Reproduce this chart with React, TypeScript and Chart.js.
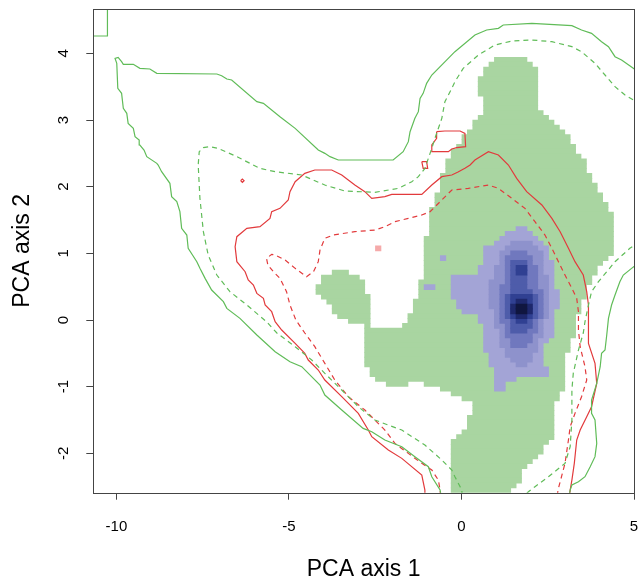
import React, { useEffect, useRef } from "react";
import { Chart, registerables } from "chart.js";

Chart.register(...registerables);

// ---- axes ----
const X_MIN = -10.67;
const X_MAX = 5.0;
const Y_MIN = -2.59;
const Y_MAX = 4.665;
const xTicks = [-10, -5, 0, 5];
const yTicks = [-2, -1, 0, 1, 2, 3, 4];
const xTitle = "PCA axis 1";
const yTitle = "PCA axis 2";

// ---- raster grid (100 x 100 cells) ----
const GRID_X0 = -10.64;
const GRID_X1 = 5.03;
const GRID_Y0 = -2.59;
const GRID_Y1 = 4.665;
const GRID_N = 100;

// cells: [row from top, first column, end column]
const greenCells = [
  [10,74,80],[11,73,81],[12,72,82],[13,72,82],[14,71,82],[15,71,82],[16,71,82],[17,71,82],
  [18,72,82],[19,72,82],[20,72,82],[21,72,83],[22,71,84],[23,70,85],[24,70,86],[25,69,87],
  [26,68,88],[27,68,88],[28,67,89],[29,66,89],[30,66,90],[31,65,91],[32,65,91],[33,65,91],
  [34,64,92],[35,64,92],[36,64,93],[37,64,93],[38,63,94],[39,63,94],[40,63,95],[41,62,95],
  [42,62,96],[43,62,96],[44,62,96],[45,62,96],[46,62,96],[47,61,96],[48,61,96],[49,61,96],
  [50,61,96],[51,61,95],[52,61,94],[53,61,93],[54,44,47],[54,61,93],[55,42,49],[55,61,92],
  [56,42,50],[56,60,92],[57,41,50],[57,60,91],[58,41,50],[58,60,91],[59,42,51],[59,60,91],
  [60,43,51],[60,59,90],[61,44,51],[61,59,90],[62,44,51],[62,59,90],[63,45,51],[63,58,89],
  [64,47,51],[64,58,89],[65,50,51],[65,57,89],[66,50,89],[67,50,89],[68,50,88],[69,50,88],
  [70,50,88],[71,50,87],[72,50,87],[73,50,87],[74,51,87],[75,51,87],[76,52,87],[77,54,58],
  [77,61,87],[78,64,87],[79,66,86],[80,68,86],[81,70,85],[82,70,85],[83,70,85],[84,69,85],
  [85,69,85],[86,69,85],[87,68,85],[88,67,85],[89,66,84],[90,66,83],[91,66,83],[92,66,82],
  [93,66,81],[94,66,80],[95,66,79],[96,66,79],[97,66,79],[98,66,78],[99,66,77]
];
const pinkCells = [[49,52,53]];
const blueLevel1 = [
  [45,78,80],[46,76,81],[47,75,82],[48,74,83],[49,72,84],[50,72,84],[51,72,84],[51,64,65],
  [52,72,85],[53,71,85],[54,71,85],[55,66,85],[56,66,85],[57,66,85],[57,61,63],[58,66,86],
  [59,66,86],[60,67,86],[61,67,86],[62,68,85],[63,71,85],[64,71,85],[65,72,85],[66,72,85],
  [67,72,85],[68,72,84],[69,72,83],[70,72,83],[71,73,83],[72,73,83],[73,73,83],[74,74,84],
  [75,74,84],[76,74,78],[77,74,76],[78,74,76]
];
const blueLevel2 = [
  [48,77,81],[49,76,82],[50,75,83],[51,75,83],[52,75,83],[53,74,83],[54,74,83],[55,74,84],
  [56,73,84],[57,73,84],[58,73,84],[59,73,84],[60,73,84],[61,73,84],[62,74,84],[63,74,84],
  [64,74,83],[65,74,83],[66,75,83],[67,75,83],[68,75,82],[69,75,82],[70,76,82],[71,76,81],
  [72,77,81],[73,78,80]
];
const blueLevel3 = [
  [50,77,80],[51,76,81],[52,76,81],[53,76,82],[54,76,82],[55,76,82],[56,76,82],[57,75,82],
  [58,75,83],[59,75,83],[60,75,83],[61,75,83],[62,75,83],[63,75,83],[64,75,82],[65,76,82],
  [66,76,82],[67,76,81],[68,77,81],[69,77,80]
];
const blueLevel4 = [
  [52,77,80],[53,77,80],[54,77,80],[55,77,80],[56,77,80],[57,77,80],[58,77,81],[59,76,82],
  [60,76,82],[61,76,82],[62,76,82],[63,76,82],[64,77,81],[65,77,81],[66,77,80]
];
const blueLevel5 = [
  [53,78,80],[54,78,80],[59,77,81],[60,77,81],[61,77,81],[62,77,81],[63,77,81],[64,78,80]
];
const blueLevel6 = [[60,78,80],[61,77,81],[62,77,81],[63,78,80]];
const blueLevel7 = [[61,78,80],[62,78,80]];

// ---- contour lines [x, y] ----
const greenSolidMain = [
  [-0.59,-2.64],[-0.62,-2.55],[-0.86,-2.35],[-0.96,-2.2],[-1.35,-2.05],[-1.73,-1.9],[-2.22,-1.8],
  [-2.6,-1.675],[-2.85,-1.625],[-3.47,-1.35],[-3.96,-1.125],[-4.1,-0.975],[-4.63,-0.7],[-4.97,-0.625],
  [-5.4,-0.475],[-5.93,-0.225],[-6.42,0.025],[-6.8,0.175],[-6.9,0.275],[-7.24,0.45],[-7.43,0.625],
  [-7.58,0.775],[-7.67,0.875],[-7.92,1.075],[-7.96,1.275],[-8.11,1.375],[-8.16,1.625],[-8.25,1.775],
  [-8.4,1.85],[-8.45,2.05],[-8.69,2.225],[-8.79,2.325],[-8.83,2.35],[-9.12,2.45],[-9.2,2.55],
  [-9.32,2.625],[-9.34,2.7],[-9.46,2.75],[-9.51,2.875],[-9.66,2.95],[-9.7,3.1],[-9.8,3.175],
  [-9.85,3.4],[-9.96,3.475],[-9.99,3.85],[-10.04,3.925],[-9.95,3.94],[-9.85,3.875],[-9.8,3.835],
  [-9.51,3.835],[-9.32,3.775],[-9.03,3.765],[-8.83,3.7],[-7.09,3.69],[-6.95,3.665],[-6.8,3.615],
  [-6.66,3.6],[-5.93,3.275],[-5.74,3.25],[-5.26,3.05],[-4.82,2.875],[-4.15,2.55],[-3.96,2.5],
  [-3.81,2.45],[-3.57,2.4],[-1.98,2.4],[-1.69,2.525],[-1.54,2.675],[-1.49,2.825],[-1.35,3.025],
  [-1.25,3.125],[-1.2,3.325],[-1.11,3.4],[-1.01,3.55],[-0.86,3.675],[-0.19,4.025],[0.39,4.275],
  [0.73,4.35],[1.07,4.375],[1.21,4.425],[2.04,4.45],[3.2,4.415],[3.48,4.35],[3.77,4.3],
  [4.06,4.175],[4.26,4.1],[4.45,3.95],[4.64,3.9],[4.98,3.775],[5.17,3.7]
];
const greenSolidRight = [
  [5.17,0.87],[4.93,0.775],[4.69,0.675],[4.59,0.575],[4.45,0.375],[4.35,0.225],[4.26,0.025],
  [4.21,-0.225],[4.16,-0.45],[4.06,-0.5],[4.02,-0.7],[3.92,-0.95],[3.77,-1.2],[3.77,-1.4],
  [3.87,-1.5],[3.92,-1.85],[3.87,-2.05],[3.73,-2.2],[3.58,-2.35],[3.39,-2.425],[3.2,-2.475],
  [3.15,-2.55],[3.12,-2.64]
];
const greenSolidCorner = [[-10.26,4.8],[-10.26,4.26],[-10.77,4.26]];
const greenDashedMain = [
  [0.02,-2.64],[0.01,-2.55],[-0.19,-2.35],[-0.28,-2.25],[-0.57,-2.1],[-1.06,-1.875],[-1.73,-1.65],
  [-2.51,-1.5],[-2.99,-1.3],[-3.47,-1.05],[-3.96,-0.8],[-4.34,-0.6],[-4.82,-0.4],[-5.35,-0.195],
  [-5.65,-0.025],[-6.22,0.225],[-6.71,0.425],[-7.09,0.675],[-7.34,0.975],[-7.48,1.325],[-7.58,1.825],
  [-7.63,2.325],[-7.6,2.525],[-7.48,2.585],[-7.29,2.6],[-7.05,2.575],[-6.51,2.45],[-5.84,2.275],
  [-5.4,2.225],[-4.63,2.175],[-3.96,2.025],[-3.38,1.935],[-2.51,1.915],[-1.83,1.975],[-1.44,2.075],
  [-1.25,2.15],[-1.06,2.275],[-0.86,2.575],[-0.77,2.725],[-0.57,3.025],[-0.48,3.275],[-0.28,3.475],
  [-0.19,3.575],[0.05,3.775],[0.49,3.975],[0.97,4.125],[1.46,4.185],[2.04,4.2],[2.62,4.175],
  [3.2,4.1],[3.48,4.025],[3.87,3.85],[4.16,3.675],[4.45,3.5],[4.74,3.375],[4.98,3.3],[5.17,3.255]
];
const greenDashedRight = [
  [5.17,1.17],[4.88,1.075],[4.45,0.875],[4.21,0.725],[3.97,0.575],[3.77,0.425],[3.68,0.225],
  [3.58,-0.025],[3.53,-0.195],[3.39,-0.45],[3.24,-0.8],[3.2,-1.05],[3.2,-1.5],[3.15,-1.9],
  [3.0,-2.15],[2.52,-2.35],[2.13,-2.5],[1.94,-2.575],[1.81,-2.64]
];
const redSolidMain = [
  [-1.06,-2.64],[-1.06,-2.55],[-1.15,-2.325],[-1.73,-2.075],[-2.12,-1.95],[-2.6,-1.75],[-2.7,-1.65],
  [-2.99,-1.4],[-3.47,-1.15],[-3.96,-0.9],[-4.15,-0.75],[-4.44,-0.6],[-4.54,-0.5],[-4.82,-0.35],
  [-5.21,-0.15],[-5.4,-0.025],[-5.5,0.125],[-5.69,0.225],[-5.74,0.325],[-5.93,0.4],[-6.03,0.525],
  [-6.18,0.6],[-6.27,0.725],[-6.51,0.875],[-6.56,1.1],[-6.51,1.25],[-6.22,1.375],[-5.84,1.4],
  [-5.55,1.525],[-5.5,1.625],[-5.26,1.675],[-5.02,1.8],[-4.97,1.925],[-4.82,2.075],[-4.54,2.2],
  [-4.25,2.25],[-3.76,2.25],[-3.47,2.175],[-3.09,2.025],[-2.8,1.925],[-2.6,1.825],[-2.22,1.85],
  [-2.02,1.885],[-1.15,1.885],[-0.86,2.025],[-0.57,2.15],[-0.28,2.175],[-0.1,2.22],[0.1,2.275],
  [0.25,2.325],[0.39,2.4],[0.78,2.525],[1.07,2.475],[1.36,2.325],[1.6,2.125],[1.89,1.925],
  [2.33,1.725],[2.62,1.525],[2.86,1.325],[3.1,1.075],[3.29,0.875],[3.53,0.675],[3.63,0.425],
  [3.68,0.225],[3.68,-0.35],[3.87,-0.65],[3.92,-0.95],[3.77,-1.3],[3.63,-1.45],[3.44,-1.65],
  [3.34,-1.8],[3.27,-2.15],[3.2,-2.4],[3.15,-2.55],[3.13,-2.64]
];
const redSolidIsland = [
  [-0.72,2.825],[-0.48,2.835],[-0.04,2.835],[0.1,2.8],[0.12,2.6],[-0.14,2.585],[-0.28,2.565],
  [-0.38,2.525],[-0.86,2.525],[-0.86,2.625],[-0.72,2.725],[-0.72,2.825]
];
const redSolidSpeck = [[-1.15,2.375],[-1.01,2.375],[-0.98,2.275],[-1.11,2.275],[-1.15,2.375]];
const redSolidDot = [[-6.4,2.09],[-6.35,2.115],[-6.3,2.09],[-6.35,2.065],[-6.4,2.09]];
const redDashed = [
  [2.77,-2.64],[2.81,-2.525],[3.0,-2.15],[3.1,-1.8],[3.15,-1.6],[3.29,-1.4],[3.48,-1.15],
  [3.63,-0.9],[3.58,-0.7],[3.44,-0.4],[3.39,-0.15],[3.39,0.125],[3.34,0.325],[3.2,0.475],
  [3.0,0.675],[2.81,0.875],[2.62,1.075],[2.42,1.275],[2.13,1.475],[1.84,1.675],[1.46,1.825],
  [1.07,1.975],[0.78,2.025],[0.2,1.975],[-0.28,1.95],[-0.57,1.8],[-0.91,1.625],[-1.15,1.575],
  [-1.54,1.525],[-1.93,1.475],[-2.22,1.4],[-2.51,1.35],[-3.09,1.325],[-3.72,1.275],[-3.96,1.225],
  [-4.1,1.05],[-4.15,0.875],[-4.29,0.725],[-4.49,0.65],[-4.82,0.775],[-5.11,0.9],[-5.4,0.975],
  [-5.5,0.985],[-5.65,0.925],[-5.61,0.825],[-5.45,0.725],[-5.26,0.625],[-5.07,0.425],[-4.97,0.225],
  [-4.8,0.0],[-4.54,-0.195],[-4.25,-0.4],[-3.96,-0.65],[-3.67,-0.9],[-3.28,-1.15],[-2.8,-1.35],
  [-2.51,-1.5],[-2.22,-1.65],[-1.93,-1.85],[-1.54,-2.0],[-1.15,-2.15],[-0.86,-2.25],[-0.67,-2.4],
  [-0.62,-2.55],[-0.61,-2.64]
];

const GREEN_FILL = "rgb(169,213,161)";
const PINK_FILL = "rgb(245,170,170)";
const BLUE_FILLS = [
  "rgb(163,164,214)",
  "rgb(142,146,204)",
  "rgb(112,120,190)",
  "rgb(78,92,170)",
  "rgb(48,64,146)",
  "rgb(30,40,108)",
  "rgb(16,22,64)",
];
const GREEN_LINE = "rgb(96,188,88)";
const RED_LINE = "rgb(226,58,60)";

function cellBars(rows: number[][]) {
  const dx = (GRID_X1 - GRID_X0) / GRID_N;
  const dy = (GRID_Y1 - GRID_Y0) / GRID_N;
  return rows.map(([k, c0, c1]) => ({
    y: GRID_Y1 - (k + 0.5) * dy,
    x: [GRID_X0 + c0 * dx, GRID_X0 + c1 * dx],
  }));
}

function cellDataset(rows: number[][], color: string, order: number) {
  return {
    type: "bar" as const,
    indexAxis: "y" as const,
    data: cellBars(rows) as any,
    backgroundColor: color,
    borderWidth: 0,
    grouped: false,
    barPercentage: 1,
    categoryPercentage: 1,
    inflateAmount: 0.4,
    order,
  };
}

function lineDataset(pts: number[][], color: string, dashed: boolean) {
  return {
    type: "scatter" as const,
    data: pts.map(([x, y]) => ({ x, y })),
    showLine: true,
    borderColor: color,
    backgroundColor: color,
    borderWidth: 1.2,
    borderDash: dashed ? [5, 4] : [],
    pointRadius: 0,
    pointHoverRadius: 0,
    fill: false,
    tension: 0,
    order: 0,
  };
}

const boxPlugin = {
  id: "plotBox",
  afterDraw(chart: any) {
    const { ctx, chartArea: a } = chart;
    ctx.save();
    ctx.strokeStyle = "#444";
    ctx.lineWidth = 1;
    const l = Math.round(a.left) + 0.5;
    const t = Math.round(a.top) + 0.5;
    ctx.strokeRect(l, t, Math.round(a.right) - Math.round(a.left), Math.round(a.bottom) - Math.round(a.top));
    ctx.restore();
  },
};

function zeroPadding(s: any) {
  s.paddingLeft = 0;
  s.paddingRight = 0;
  s.paddingTop = 0;
  s.paddingBottom = 0;
}

export default function App() {
  const ref = useRef<HTMLCanvasElement>(null);
  useEffect(() => {
    if (!ref.current) return;
    const font = "'Liberation Sans', Arial, Helvetica, sans-serif";
    const chart = new Chart(ref.current, {
      type: "scatter",
      data: {
        datasets: [
          lineDataset(greenSolidMain, GREEN_LINE, false),
          lineDataset(greenSolidRight, GREEN_LINE, false),
          lineDataset(greenSolidCorner, GREEN_LINE, false),
          lineDataset(greenDashedMain, GREEN_LINE, true),
          lineDataset(greenDashedRight, GREEN_LINE, true),
          lineDataset(redSolidMain, RED_LINE, false),
          lineDataset(redSolidIsland, RED_LINE, false),
          lineDataset(redSolidSpeck, RED_LINE, false),
          lineDataset(redSolidDot, RED_LINE, false),
          lineDataset(redDashed, RED_LINE, true),
          cellDataset(blueLevel7, BLUE_FILLS[6], 1),
          cellDataset(blueLevel6, BLUE_FILLS[5], 2),
          cellDataset(blueLevel5, BLUE_FILLS[4], 3),
          cellDataset(blueLevel4, BLUE_FILLS[3], 4),
          cellDataset(blueLevel3, BLUE_FILLS[2], 5),
          cellDataset(blueLevel2, BLUE_FILLS[1], 6),
          cellDataset(blueLevel1, BLUE_FILLS[0], 7),
          cellDataset(pinkCells, PINK_FILL, 8),
          cellDataset(greenCells, GREEN_FILL, 9),
        ] as any,
      },
      options: {
        animation: false,
        responsive: false,
        events: [],
        layout: { autoPadding: false, padding: { left: 0, right: 6, top: 9, bottom: 0 } },
        plugins: { legend: { display: false }, tooltip: { enabled: false } },
        scales: {
          x: {
            type: "linear",
            min: X_MIN,
            max: X_MAX,
            offset: false,
            afterBuildTicks: (s: any) => { s.ticks = xTicks.map((v) => ({ value: v })); },
            afterFit: (s: any) => { s.height = 86.3; zeroPadding(s); },
            grid: { display: true, drawOnChartArea: false, drawTicks: true, tickLength: 7, tickColor: "#444", tickWidth: 1, offset: false },
            border: { display: false },
            ticks: { autoSkip: false, maxRotation: 0, minRotation: 0, padding: 18, color: "#000", font: { family: font, size: 15 } },
            title: { display: true, text: xTitle, color: "#000", font: { family: font, size: 23, lineHeight: 1 }, padding: { top: 0, bottom: -2 } },
          },
          y: {
            type: "linear",
            min: Y_MIN,
            max: Y_MAX,
            offset: false,
            afterBuildTicks: (s: any) => { s.ticks = yTicks.map((v) => ({ value: v })); },
            afterFit: (s: any) => { s.width = 93.3; zeroPadding(s); },
            grid: { display: true, drawOnChartArea: false, drawTicks: true, tickLength: 7, tickColor: "#444", tickWidth: 1, offset: false },
            border: { display: false },
            ticks: { autoSkip: false, minRotation: 90, maxRotation: 90, crossAlign: "center", padding: 16, color: "#000", font: { family: font, size: 15 } },
            title: { display: true, text: yTitle, color: "#000", font: { family: font, size: 23, lineHeight: 1 }, padding: { top: 11, bottom: 0 } },
          },
        },
      } as any,
      plugins: [boxPlugin],
    });
    return () => chart.destroy();
  }, []);
  return (
    <div style={{ position: "absolute", left: 0, top: 0, width: 640, height: 579, background: "#fff" }}>
      <canvas ref={ref} width={640} height={579} style={{ display: "block", width: 640, height: 579 }} />
    </div>
  );
}
